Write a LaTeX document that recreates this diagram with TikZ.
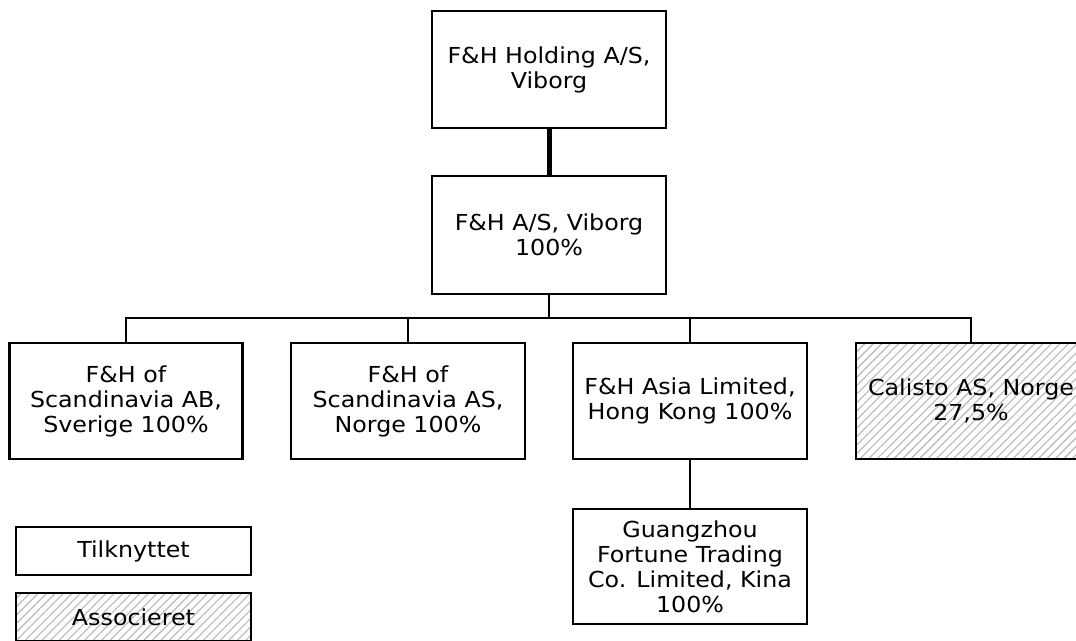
\documentclass[tikz,border=0pt]{standalone}
\usepackage{fontspec}
\setmainfont{DejaVu Sans}[FakeStretch=1.08]
\usetikzlibrary{patterns.meta}
\tikzset{
  box/.style={draw, line width=2.5pt, rectangle, align=center, inner sep=0pt,
    font=\fontsize{22}{25}\selectfont},
  hatched/.style={pattern={Lines[angle=45,distance=6pt,line width=1.1pt]}, pattern color=black!28},
  conn/.style={line width=2pt},
  thickconn/.style={line width=5pt},
}
\begin{document}
\begin{tikzpicture}[x=1pt,y=-1pt]
\useasboundingbox (0,0) rectangle (1076,640);
\fill[white] (0,0) rectangle (1076,640);
\clip (0,0) rectangle (1076,640);
% top levels
\node[box, minimum width=234pt, minimum height=117pt] (top) at (549,69.5) {F\&H Holding A/S,\\Viborg};
\node[box, minimum width=234pt, minimum height=118pt] (mid) at (549,235) {F\&H A/S, Viborg\\100\%};
\coordinate (bus) at (549,318);
% children
\node[box, minimum width=233pt, minimum height=116pt] (c1) at (126,401) {F\&H of\\Scandinavia AB,\\Sverige 100\%};
\node[box, minimum width=234pt, minimum height=116pt] (c2) at (408,401) {F\&H of\\Scandinavia AS,\\Norge 100\%};
\node[box, minimum width=234pt, minimum height=116pt] (c3) at (690,401) {F\&H Asia Limited,\\Hong Kong 100\%};
\node[box, hatched, minimum width=230pt, minimum height=116pt] (c4) at (971,401) {Calisto AS, Norge\\27,5\%};
\node[box, minimum width=234pt, minimum height=115pt] (g) at (690,566.5) {Guangzhou\\Fortune Trading\\Co. Limited, Kina\\100\%};
% legend
\node[box, minimum width=235pt, minimum height=48pt] (leg1) at (133.5,551) {Tilknyttet};
\node[box, hatched, minimum width=235pt, minimum height=48pt] (leg2) at (133.5,617) {Associeret};
% connectors
\draw[thickconn] (top.south) -- (mid.north);
\draw[conn] (mid.south) -- (bus);
\draw[conn] (c1.north) -- (c1.north |- bus) -- (c4.north |- bus) -- (c4.north);
\draw[conn] (c2.north) -- (c2.north |- bus);
\draw[conn] (c3.north) -- (c3.north |- bus);
\draw[conn] (c3.south) -- (g.north);
\end{tikzpicture}
\end{document}
